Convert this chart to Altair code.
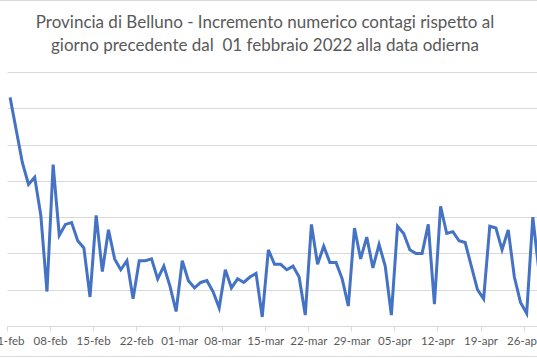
import altair as alt
import pandas as pd

title_lines = [
    "Provincia di Belluno - Incremento numerico contagi rispetto al",
    "giorno precedente dal \u00a001 febbraio 2022 alla data odierna",
]

values = [126, 108, 90, 78, 82, 61, 19, 89, 50, 56,
          57, 47, 43, 16, 61, 30, 53, 37, 31, 36,
          15, 36, 36, 37, 26, 33, 22, 8, 36, 25,
          21, 24, 25, 19, 10, 31, 21, 26, 24, 27,
          29, 5, 42, 34, 34, 31, 33, 27, 6, 56,
          34, 44, 35, 35, 26, 11, 54, 37, 49, 32,
          45, 33, 6, 55, 51, 42, 40, 40, 56, 12,
          66, 51, 52, 47, 46, 33, 20, 15, 55, 54,
          42, 53, 27, 13, 7, 60, 30]

tick_labels = ["01-feb", "08-feb", "15-feb", "22-feb", "01-mar", "08-mar",
               "15-mar", "22-mar", "29-mar", "05-apr", "12-apr", "19-apr", "26-apr"]

dates = pd.date_range("2022-02-01", periods=len(values), freq="D")
df = pd.DataFrame({
    "giorno": [i + 0.5 for i in range(len(values))],
    "data": dates.strftime("%d-%m-%Y"),
    "incremento": values,
})

W, H = 530, 254
x_max = 86.18
tick_vals = [7 * k for k in range(len(tick_labels))]
label_expr = "[" + ",".join(f"'{t}'" for t in tick_labels) + "][round(datum.value/7)]"

line = alt.Chart(df).mark_line(color="#4472C4", strokeWidth=3, clip=True).encode(
    x=alt.X("giorno:Q",
            scale=alt.Scale(domain=[0, x_max], nice=False, zero=False),
            axis=alt.Axis(values=tick_vals, labelExpr=label_expr, title=None,
                          grid=False, domainColor="#D9D9D9", tickColor="#D9D9D9",
                          tickSize=5, labelPadding=4, labelColor="#595959",
                          labelFont="Lato", labelFontSize=11.5,
                          labelFlush=False, labelOverlap=False)),
    y=alt.Y("incremento:Q",
            scale=alt.Scale(domain=[0, 140], nice=False),
            axis=alt.Axis(values=[20, 40, 60, 80, 100, 120, 140], labels=False,
                          ticks=False, domain=False, title=None,
                          gridColor="#D9D9D9", gridWidth=1)),
)

border_top = alt.Chart(df).mark_rule(color="#D9D9D9", strokeWidth=1).encode(
    x=alt.value(-7), x2=alt.value(W), y=alt.value(-71.5))
border_bottom = alt.Chart(df).mark_rule(color="#D9D9D9", strokeWidth=1).encode(
    x=alt.value(-7), x2=alt.value(W), y=alt.value(H + 30.5))

title_style = dict(font="Lato", fontSize=17, color="#595959", align="center",
                   baseline="middle")
title1 = alt.Chart(pd.DataFrame({"t": [title_lines[0]]})).mark_text(**title_style).encode(
    text="t:N", x=alt.value(258), y=alt.value(-49))
title2 = alt.Chart(pd.DataFrame({"t": [title_lines[1]]})).mark_text(**title_style).encode(
    text="t:N", x=alt.value(258), y=alt.value(-26))

chart = alt.layer(border_top, border_bottom, line, title1, title2).properties(
    width=W, height=H,
    padding={"left": 7, "top": 72, "right": 0, "bottom": 32},
    autosize=alt.AutoSizeParams(type="none"),
).configure_view(stroke=None)

chart.save("out.html", embed_options={"renderer": "svg", "actions": False})
